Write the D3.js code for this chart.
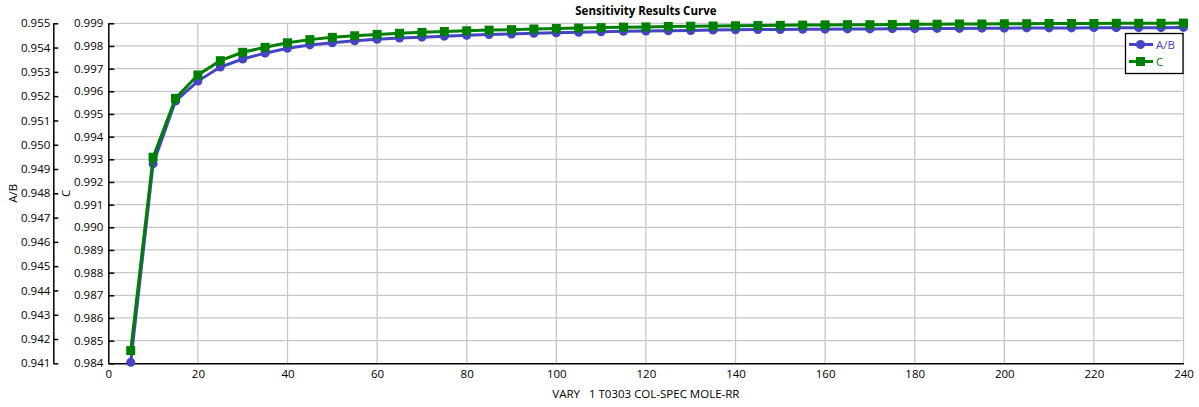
<!DOCTYPE html>
<html>
<head>
<meta charset="utf-8">
<script src="https://cdn.jsdelivr.net/npm/d3@7/dist/d3.min.js"></script>
<style>
  html, body { margin: 0; padding: 0; background: #ffffff; }
  svg { display: block; font-family: "Open Sans", "Noto Sans", sans-serif; }
</style>
</head>
<body>
<svg id="chart" width="1199" height="407"></svg>
<script>
const xValues = [5,10,15,20,25,30,35,40,45,50,55,60,65,70,75,80,85,90,95,100,105,110,115,120,125,130,135,140,145,150,155,160,165,170,175,180,185,190,195,200,205,210,215,220,225,230,235,240];
const abValues = [0.94104,0.94921,0.95180,0.95262,0.95320,0.95353,0.95377,0.95397,0.95411,0.95420,0.95428,0.95434,0.95439,0.95443,0.95447,0.95451,0.95454,0.95456,0.95459,0.95461,0.95463,0.95465,0.95467,0.95468,0.95469,0.95470,0.95472,0.95473,0.95474,0.95474,0.95475,0.95476,0.95477,0.95477,0.95478,0.95478,0.95479,0.95479,0.95480,0.95480,0.95481,0.95481,0.95481,0.95482,0.95482,0.95482,0.95482,0.95483];
const cValues = [0.98456,0.99309,0.99569,0.99672,0.99735,0.99772,0.99794,0.99814,0.99828,0.99838,0.99845,0.99851,0.99856,0.99860,0.99864,0.99867,0.99870,0.99872,0.99875,0.99877,0.99879,0.99881,0.99883,0.99884,0.99886,0.99887,0.99888,0.99889,0.99890,0.99891,0.99892,0.99893,0.99894,0.99894,0.99895,0.99896,0.99896,0.99897,0.99897,0.99898,0.99898,0.99899,0.99899,0.99899,0.99900,0.99900,0.99900,0.99901];
const xTicks = [0,20,40,60,80,100,120,140,160,180,200,220,240];
const abTicks = [0.941,0.942,0.943,0.944,0.945,0.946,0.947,0.948,0.949,0.950,0.951,0.952,0.953,0.954,0.955];
const cTicks = [0.984,0.985,0.986,0.987,0.988,0.989,0.990,0.991,0.992,0.993,0.994,0.995,0.996,0.997,0.998,0.999];
const seriesNames = ["A/B", "C"];
const titleText = "Sensitivity Results Curve";
const xTitle = "VARY   1 T0303 COL-SPEC MOLE-RR";

const svg = d3.select("#chart");
const plotL = 108.3, plotR = 1183.5, plotT = 23.3, plotB = 363.3;
const outerAxisX = 53.3;
const blue = "#4444c4", green = "#008000";

const x = d3.scaleLinear().domain([0, 240]).range([plotL, plotR]);
const yAB = d3.scaleLinear().domain([0.941, 0.955]).range([plotB, plotT]);
const yC = d3.scaleLinear().domain([0.984, 0.999]).range([plotB, plotT]);

// grid
const grid = svg.append("g").attr("stroke", "#c8c8c8").attr("stroke-width", 1.3);
xTicks.filter(d => d > 0).forEach(d => {
  grid.append("line").attr("x1", x(d)).attr("x2", x(d)).attr("y1", plotT).attr("y2", plotB);
});
cTicks.filter(d => d > 0.984).forEach(d => {
  grid.append("line").attr("x1", plotL).attr("x2", plotR).attr("y1", yC(d)).attr("y2", yC(d));
});

// outer axis (A/B)
const axAB = d3.axisRight(yAB).tickValues(abTicks).tickFormat(d3.format(".3f")).tickSize(5).tickSizeOuter(0);
const gAB = svg.append("g").attr("transform", `translate(${outerAxisX},0)`).call(axAB);
gAB.selectAll("text").attr("x", -3).attr("text-anchor", "end");
// inner axis (C)
const axC = d3.axisRight(yC).tickValues(cTicks).tickFormat(d3.format(".3f")).tickSize(6).tickSizeOuter(0);
const gC = svg.append("g").attr("transform", `translate(${plotL},0)`).call(axC);
gC.selectAll("text").attr("x", -5).attr("text-anchor", "end");
// x axis
const axX = d3.axisBottom(x).tickValues(xTicks).tickFormat(d3.format("d")).tickSize(0).tickSizeOuter(0);
const gX = svg.append("g").attr("transform", `translate(0,${plotB})`).call(axX);
gX.selectAll("text").attr("y", 7);

[gAB, gC, gX].forEach(g => {
  g.selectAll("text").attr("font-size", 11.5).attr("fill", "#000").attr("font-family", "'Open Sans', sans-serif");
  g.selectAll("path, line").attr("stroke", "#000").attr("stroke-width", 1.5);
});

// axis titles
svg.append("text").attr("transform", `translate(17,${(plotT+plotB)/2}) rotate(-90)`)
  .attr("text-anchor", "middle").attr("font-size", 11.5).text(seriesNames[0]);
svg.append("text").attr("transform", `translate(70,${(plotT+plotB)/2}) rotate(-90)`)
  .attr("text-anchor", "middle").attr("font-size", 11.5).text(seriesNames[1]);
svg.append("text").attr("x", (plotL+plotR)/2).attr("y", 398)
  .attr("text-anchor", "middle").attr("font-size", 11.5).style("white-space", "pre").text(xTitle);
svg.append("text").attr("x", (plotL+plotR)/2).attr("y", 15)
  .attr("text-anchor", "middle").attr("font-size", 11.5).attr("font-weight", "bold").text(titleText);

// series
const abData = xValues.map((d, i) => [d, abValues[i]]);
const cData = xValues.map((d, i) => [d, cValues[i]]);
const lineAB = d3.line().x(d => x(d[0])).y(d => yAB(d[1]));
const lineC = d3.line().x(d => x(d[0])).y(d => yC(d[1]));

svg.append("path").datum(abData).attr("d", lineAB).attr("fill", "none").attr("stroke", blue).attr("stroke-width", 3);
svg.append("g").selectAll("circle").data(abData).join("circle")
  .attr("cx", d => x(d[0])).attr("cy", d => yAB(d[1])).attr("r", 4.5).attr("fill", blue);

svg.append("path").datum(cData).attr("d", lineC).attr("fill", "none").attr("stroke", green).attr("stroke-width", 3);
svg.append("g").selectAll("rect").data(cData).join("rect")
  .attr("x", d => x(d[0]) - 4.5).attr("y", d => yC(d[1]) - 4.5).attr("width", 9).attr("height", 9).attr("fill", green);

// legend
const lg = svg.append("g");
lg.append("rect").attr("x", 1125.5).attr("y", 33.5).attr("width", 57.5).attr("height", 40)
  .attr("fill", "#fff").attr("stroke", "#000").attr("stroke-width", 1.3);
lg.append("line").attr("x1", 1129).attr("x2", 1153).attr("y1", 44.5).attr("y2", 44.5).attr("stroke", blue).attr("stroke-width", 3);
lg.append("circle").attr("cx", 1140.5).attr("cy", 44.5).attr("r", 4.5).attr("fill", blue);
lg.append("text").attr("x", 1156).attr("y", 48.5).attr("font-size", 11.5).attr("fill", blue).text(seriesNames[0]);
lg.append("line").attr("x1", 1129).attr("x2", 1153).attr("y1", 61.5).attr("y2", 61.5).attr("stroke", green).attr("stroke-width", 3);
lg.append("rect").attr("x", 1136).attr("y", 57).attr("width", 9).attr("height", 9).attr("fill", green);
lg.append("text").attr("x", 1156).attr("y", 65.5).attr("font-size", 11.5).attr("fill", green).text(seriesNames[1]);
</script>
</body>
</html>
